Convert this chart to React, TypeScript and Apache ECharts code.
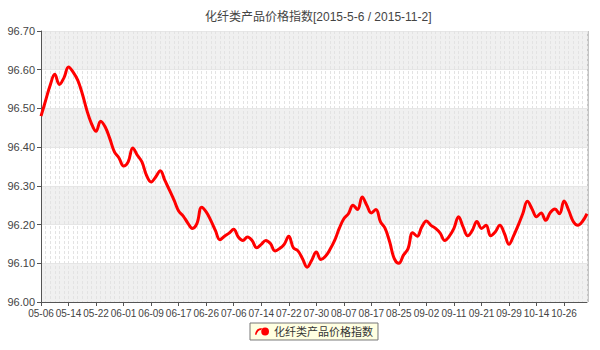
import React, { useEffect, useRef } from "react";
import * as echarts from "echarts";

const TITLE = "化纤类产品价格指数[2015-5-6 / 2015-11-2]";
const SERIES_NAME = "化纤类产品价格指数";

const dates: string[] = [
  "05-06", "05-07", "05-08", "05-11", "05-12", "05-13", "05-14", "05-15", "05-18", "05-19",
  "05-20", "05-21", "05-22", "05-25", "05-26", "05-27", "05-28", "05-29", "06-01", "06-02",
  "06-03", "06-04", "06-05", "06-08", "06-09", "06-10", "06-11", "06-12", "06-15", "06-16",
  "06-17", "06-18", "06-19", "06-23", "06-24", "06-25", "06-26", "06-29", "06-30", "07-01",
  "07-02", "07-03", "07-06", "07-07", "07-08", "07-09", "07-10", "07-13", "07-14", "07-15",
  "07-16", "07-17", "07-20", "07-21", "07-22", "07-23", "07-24", "07-27", "07-28", "07-29",
  "07-30", "07-31", "08-03", "08-04", "08-05", "08-06", "08-07", "08-10", "08-11", "08-12",
  "08-13", "08-14", "08-17", "08-18", "08-19", "08-20", "08-21", "08-24", "08-25", "08-26",
  "08-27", "08-28", "08-31", "09-01", "09-02", "09-06", "09-07", "09-08", "09-09", "09-10",
  "09-11", "09-14", "09-15", "09-16", "09-17", "09-18", "09-21", "09-22", "09-23", "09-24",
  "09-25", "09-28", "09-29", "09-30", "10-08", "10-09", "10-12", "10-13", "10-14", "10-15",
  "10-16", "10-19", "10-20", "10-22", "10-26", "10-27", "10-28", "10-29", "10-30", "11-02",
];

const values: number[] = [
  96.48, 96.52, 96.56, 96.588, 96.562, 96.579, 96.607, 96.594, 96.573, 96.538,
  96.495, 96.461, 96.441, 96.467, 96.452, 96.422, 96.388, 96.372, 96.351, 96.362,
  96.398, 96.379, 96.362, 96.327, 96.31, 96.323, 96.339, 96.314, 96.289, 96.263,
  96.235, 96.222, 96.204, 96.19, 96.203, 96.245, 96.233, 96.211, 96.185, 96.161,
  96.17, 96.178, 96.188, 96.168, 96.159, 96.168, 96.159, 96.14, 96.149, 96.159,
  96.151, 96.132, 96.138, 96.149, 96.17, 96.14, 96.132, 96.112, 96.09, 96.108,
  96.129, 96.11, 96.118, 96.136, 96.159, 96.19, 96.215, 96.228, 96.25, 96.239,
  96.271, 96.25, 96.23, 96.239, 96.207, 96.19, 96.155, 96.112, 96.1, 96.121,
  96.138, 96.179, 96.17, 96.194, 96.209, 96.198, 96.19, 96.178, 96.159, 96.17,
  96.19, 96.22, 96.194, 96.171, 96.185, 96.208, 96.19, 96.198, 96.171, 96.181,
  96.198, 96.177, 96.149, 96.171, 96.198, 96.228, 96.26, 96.241, 96.22, 96.23,
  96.211, 96.231, 96.24, 96.228, 96.261, 96.237, 96.208, 96.198, 96.208, 96.228,
];

const Y_MIN = 96.0;
const Y_MAX = 96.7;
const Y_STEP = 0.1;

const FONT = '"Liberation Sans", Arial, "Noto Sans CJK SC", sans-serif';

const LEGEND_ICON =
  "path://M8,6 A5,5 0 1,0 18,6 A5,5 0 1,0 8,6 Z M0,10 C1,4 4,1.5 9,2 L9,4 C5.5,3.5 3,6 1.6,10.5 Z";

export default function App() {
  const ref = useRef<HTMLDivElement>(null);

  useEffect(() => {
    if (!ref.current) return;
    const chart = echarts.init(ref.current, null, { renderer: "svg" });
    chart.setOption({
      animation: false,
      backgroundColor: "#ffffff",
      title: {
        text: TITLE,
        left: 200,
        top: 6,
        textStyle: { fontSize: 12, fontWeight: "normal", color: "#444", fontFamily: FONT },
      },
      legend: {
        data: [{ name: SERIES_NAME, icon: LEGEND_ICON }],
        left: 250,
        bottom: 10,
        itemWidth: 14,
        itemHeight: 9,
        itemGap: 4,
        backgroundColor: "#ffffe1",
        borderColor: "#777",
        borderWidth: 1,
        borderRadius: 0,
        padding: [3, 5, 3, 5],
        textStyle: { fontSize: 11, color: "#333", fontFamily: FONT },
      },
      grid: { left: 41, right: 13, top: 31, bottom: 48, containLabel: false },
      xAxis: {
        type: "category",
        data: dates,
        boundaryGap: false,
        axisLine: { show: true, lineStyle: { color: "#555", width: 1 } },
        axisTick: { show: true, interval: 5, length: 4, inside: false, lineStyle: { color: "#555" } },
        axisLabel: {
          interval: 5,
          fontSize: 10,
          color: "#444",
          margin: 6,
          fontFamily: FONT,
          hideOverlap: false,
          showMinLabel: true,
        },
        splitLine: { show: true, interval: 0, lineStyle: { color: "#e3e3e3", type: [3, 2], width: 1 } },
      },
      yAxis: {
        type: "value",
        min: Y_MIN,
        max: Y_MAX,
        interval: Y_STEP,
        axisLine: { show: true, lineStyle: { color: "#555", width: 1 } },
        axisTick: { show: true, length: 4, lineStyle: { color: "#555" } },
        axisLabel: {
          fontSize: 11,
          color: "#444",
          margin: 6,
          fontFamily: FONT,
          formatter: (v: number) => v.toFixed(2),
        },
        splitLine: { show: true, lineStyle: { color: "#e6e6e6", width: 1 } },
        splitArea: { show: true, areaStyle: { color: ["#f0f0f0", "#ffffff"] } },
      },
      graphic: [
        {
          type: "line",
          shape: { x1: 588, y1: 31, x2: 588, y2: 302 },
          style: { stroke: "#c4c4c4", lineWidth: 2 },
          silent: true,
        },
      ],
      series: [
        {
          name: SERIES_NAME,
          type: "line",
          data: values,
          smooth: 0.4,
          showSymbol: false,
          symbol: "none",
          lineStyle: { color: "#ff0000", width: 3 },
          itemStyle: { color: "#ff0000" },
        },
      ],
    });
    return () => chart.dispose();
  }, []);

  return <div ref={ref} style={{ width: 600, height: 350, position: "absolute", left: 0, top: 0 }} />;
}
